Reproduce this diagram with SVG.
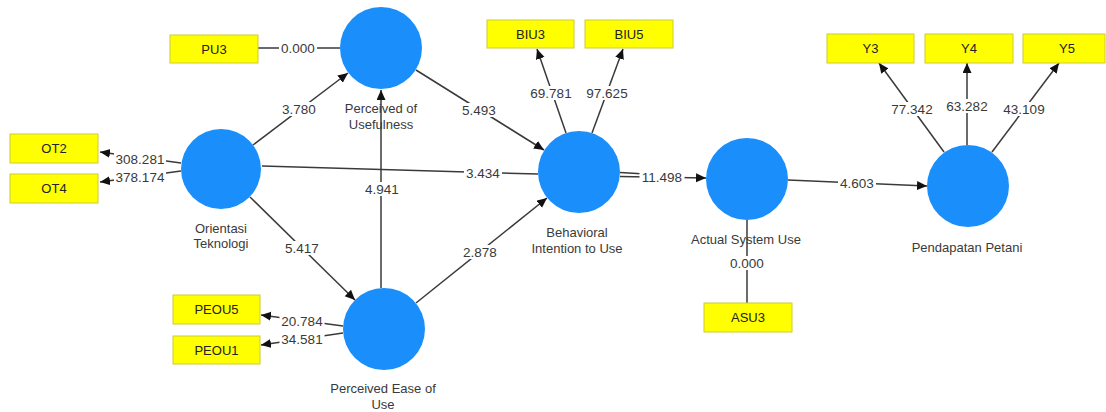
<svg xmlns="http://www.w3.org/2000/svg" width="1106" height="412" viewBox="0 0 1106 412">
<defs>
<marker id="arr" markerUnits="userSpaceOnUse" markerWidth="11" markerHeight="10" refX="10" refY="4.5" orient="auto">
<path d="M0,0 L10,4.5 L0,9 z" fill="#111"/>
</marker>
<style>
.lv{fill:#1a8ffb;}
.ind rect{fill:#ffff00;stroke:#cccc33;stroke-width:1;}
.ind text{font-family:"Liberation Sans",Arial,sans-serif;font-size:13px;fill:#222;text-anchor:middle;dominant-baseline:central;}
.nl{font-family:"Liberation Sans",Arial,sans-serif;font-size:13px;fill:#3a3a3a;text-anchor:middle;}
.e line{stroke:#3a3a3a;stroke-width:1.5;fill:none;}
.e line.a{marker-end:url(#arr);}
.e rect{fill:#fff;}
.el{font-family:"Liberation Sans",Arial,sans-serif;font-size:13.5px;fill:#3a3a3a;text-anchor:middle;dominant-baseline:central;}
</style>
</defs>
<rect width="1106" height="412" fill="#fff"/>

<g id="connectors" class="e">
<line x1="258" y1="48" x2="340" y2="48"/>
<line class="a" x1="253" y1="145" x2="348" y2="73"/>
<line class="a" x1="416" y1="70" x2="544" y2="150"/>
<line x1="262" y1="166" x2="538" y2="174"/>
<line class="a" x1="381" y1="288" x2="381" y2="90"/>
<line class="a" x1="250" y1="197" x2="355" y2="300"/>
<line class="a" x1="416" y1="303" x2="547" y2="198"/>
<line x1="620" y1="172.5" x2="662" y2="175"/>
<line class="a" x1="620" y1="176.5" x2="706" y2="178"/>
<line class="a" x1="788" y1="180" x2="927" y2="186"/>
<line x1="747" y1="220" x2="747" y2="303"/>
<line class="a" x1="181" y1="163" x2="100" y2="152"/>
<line class="a" x1="181" y1="171" x2="100" y2="182"/>
<line class="a" x1="343" y1="326" x2="261" y2="315"/>
<line class="a" x1="343" y1="333" x2="261" y2="345"/>
<line class="a" x1="566" y1="133" x2="537" y2="49"/>
<line class="a" x1="592" y1="133" x2="623" y2="49"/>
<line class="a" x1="944" y1="152" x2="879" y2="63"/>
<line class="a" x1="967" y1="145" x2="967" y2="63"/>
<line class="a" x1="992" y1="152" x2="1059" y2="63"/>

<rect x="279" y="41" width="38" height="14"/><text class="el" x="298" y="48">0.000</text>
<rect x="280" y="102" width="38" height="14"/><text class="el" x="299" y="109">3.780</text>
<rect x="460" y="103" width="38" height="14"/><text class="el" x="479" y="110">5.493</text>
<rect x="464" y="166" width="38" height="14"/><text class="el" x="483" y="173">3.434</text>
<rect x="363" y="182" width="38" height="14"/><text class="el" x="382" y="189">4.941</text>
<rect x="283" y="241" width="38" height="14"/><text class="el" x="302" y="248">5.417</text>
<rect x="461" y="245" width="38" height="14"/><text class="el" x="480" y="252">2.878</text>
<rect x="639.5" y="170" width="45" height="14"/><text class="el" x="662" y="177">11.498</text>
<rect x="838" y="176" width="38" height="14"/><text class="el" x="857" y="183">4.603</text>
<rect x="728" y="256" width="38" height="14"/><text class="el" x="747" y="263">0.000</text>
<rect x="114" y="152" width="52" height="14"/><text class="el" x="140" y="159">308.281</text>
<rect x="114" y="170" width="52" height="14"/><text class="el" x="140" y="177">378.174</text>
<rect x="279.5" y="314" width="45" height="14"/><text class="el" x="302" y="321">20.784</text>
<rect x="279.5" y="332" width="45" height="14"/><text class="el" x="302" y="339">34.581</text>
<rect x="528.5" y="86" width="45" height="14"/><text class="el" x="551" y="93">69.781</text>
<rect x="584.5" y="86" width="45" height="14"/><text class="el" x="607" y="93">97.625</text>
<rect x="889.5" y="102" width="45" height="14"/><text class="el" x="912" y="109">77.342</text>
<rect x="944.5" y="99" width="45" height="14"/><text class="el" x="967" y="106">63.282</text>
<rect x="1001.5" y="102" width="45" height="14"/><text class="el" x="1024" y="109">43.109</text>
</g>

<g id="PU"><circle class="lv" cx="381" cy="48" r="41"/><text class="nl" x="381" y="113">Perceived of</text><text class="nl" x="381" y="129">Usefulness</text></g>
<g id="OT"><circle class="lv" cx="221" cy="169" r="40"/><text class="nl" x="221" y="233">Orientasi</text><text class="nl" x="221" y="248">Teknologi</text></g>
<g id="PEOU"><circle class="lv" cx="384" cy="329" r="41"/><text class="nl" x="383" y="393">Perceived Ease of</text><text class="nl" x="383" y="409">Use</text></g>
<g id="BIU"><circle class="lv" cx="579" cy="172" r="41"/><text class="nl" x="577" y="237">Behavioral</text><text class="nl" x="577" y="253">Intention to Use</text></g>
<g id="ASU"><circle class="lv" cx="747" cy="179" r="41"/><text class="nl" x="746" y="244">Actual System Use</text></g>
<g id="PP"><circle class="lv" cx="968" cy="186" r="41"/><text class="nl" x="967" y="252">Pendapatan Petani</text></g>

<g id="PU3" class="ind"><rect x="170" y="35" width="88" height="28"/><text x="214" y="49">PU3</text></g>
<g id="OT2" class="ind"><rect x="10" y="134" width="88" height="29"/><text x="54" y="148.5">OT2</text></g>
<g id="OT4" class="ind"><rect x="10" y="174" width="88" height="29"/><text x="54" y="188.5">OT4</text></g>
<g id="PEOU5" class="ind"><rect x="173" y="295" width="87" height="29"/><text x="216.5" y="309.5">PEOU5</text></g>
<g id="PEOU1" class="ind"><rect x="173" y="336" width="87" height="28"/><text x="216.5" y="350">PEOU1</text></g>
<g id="BIU3" class="ind"><rect x="487" y="20" width="87" height="28"/><text x="530.5" y="34">BIU3</text></g>
<g id="BIU5" class="ind"><rect x="585" y="20" width="88" height="28"/><text x="629" y="34">BIU5</text></g>
<g id="ASU3" class="ind"><rect x="704" y="303" width="88" height="29"/><text x="748" y="317.5">ASU3</text></g>
<g id="Y3" class="ind"><rect x="827" y="34" width="87" height="29"/><text x="870.5" y="48.5">Y3</text></g>
<g id="Y4" class="ind"><rect x="925" y="34" width="88" height="29"/><text x="969" y="48.5">Y4</text></g>
<g id="Y5" class="ind"><rect x="1023" y="34" width="82" height="29"/><text x="1067" y="48.5">Y5</text></g>
</svg>
